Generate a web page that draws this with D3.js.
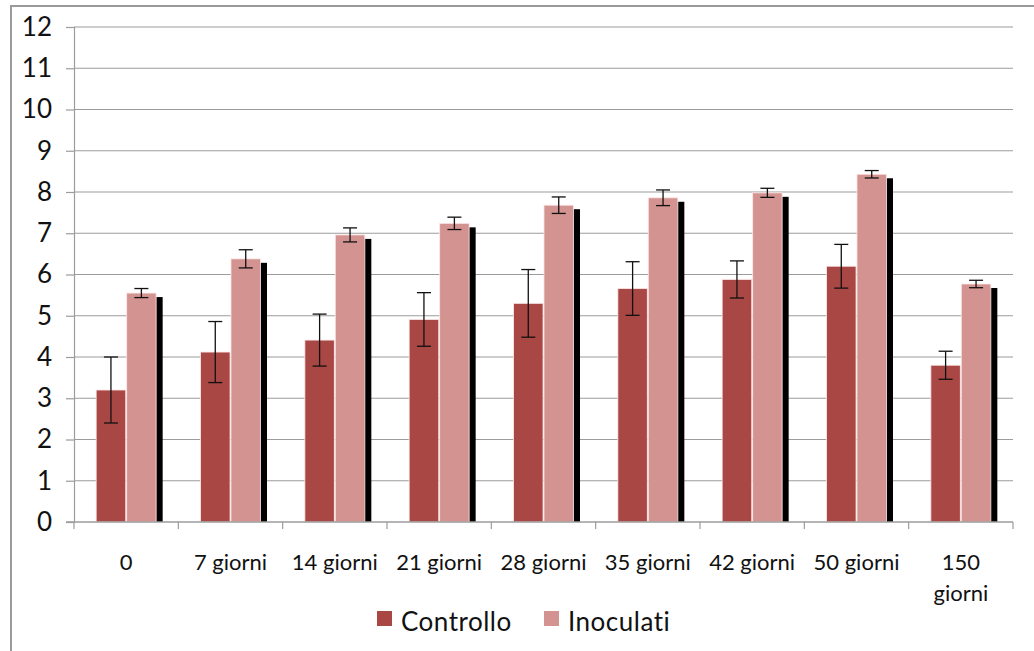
<!DOCTYPE html>
<html>
<head>
<meta charset="utf-8">
<script src="https://cdn.jsdelivr.net/npm/d3@7"></script>
<style>
  html, body { margin: 0; padding: 0; background: #fff; }
  svg { display: block; font-family: Lato, "Open Sans", sans-serif; }
</style>
</head>
<body>
<svg id="chart" width="1034" height="651"></svg>
<script>
// Sampling days
const categories = ["0", "7 giorni", "14 giorni", "21 giorni", "28 giorni", "35 giorni", "42 giorni", "50 giorni", "150 giorni"];
// Tick labels (line breaks where the axis wraps the text)
const xTickLabels = ["0", "7 giorni", "14 giorni", "21 giorni", "28 giorni", "35 giorni", "42 giorni", "50 giorni", "150\ngiorni"];
// Series means and error amounts
const controllo    = [3.20, 4.12, 4.41, 4.91, 5.30, 5.66, 5.88, 6.20, 3.80];
const controlloErr = [0.80, 0.74, 0.63, 0.65, 0.82, 0.65, 0.45, 0.53, 0.34];
const inoculati    = [5.55, 6.38, 6.96, 7.24, 7.68, 7.86, 7.98, 8.43, 5.77];
const inoculatiErr = [0.11, 0.22, 0.17, 0.15, 0.20, 0.19, 0.11, 0.09, 0.09];
const seriesNames = ["Controllo", "Inoculati"];
const yTicks = [0, 1, 2, 3, 4, 5, 6, 7, 8, 9, 10, 11, 12];

const colors = { Controllo: "#a94744", Inoculati: "#d39391" };

const svg = d3.select("#chart");
const plot = { left: 74, right: 1013, top: 27, bottom: 522 };

// Outer chart frame (left and top edges)
svg.append("path")
  .attr("d", `M11,660 L11,6 L1034,6`)
  .attr("fill", "none")
  .attr("stroke", "#9a9a9a")
  .attr("stroke-width", 2);

const x = d3.scaleBand().domain(categories).range([plot.left, plot.right])
  .paddingInner(0.425).paddingOuter(0.2125);
const xs = d3.scaleBand().domain(seriesNames).range([0, x.bandwidth()]).paddingInner(0.03);
const y = d3.scaleLinear().domain([0, 12]).range([plot.bottom, plot.top]);
const step = x.step();

// Horizontal gridlines
svg.append("g").selectAll("line").data(yTicks.filter(t => t > 0)).join("line")
  .attr("x1", plot.left).attr("x2", plot.right)
  .attr("y1", d => y(d)).attr("y2", d => y(d))
  .attr("stroke", "#9c9c9c").attr("stroke-width", 1.2);

// Y axis
const yAxis = d3.axisLeft(y).tickValues(yTicks).tickSize(8).tickPadding(14).tickFormat(d3.format("d"));
const gy = svg.append("g").attr("transform", `translate(${plot.left},0)`).call(yAxis);
gy.select(".domain").attr("stroke", "#9c9c9c").attr("stroke-width", 1.2);
gy.selectAll(".tick line").attr("stroke", "#9c9c9c").attr("stroke-width", 1.2);
gy.selectAll(".tick text").attr("font-size", 26).attr("fill", "#111").attr("font-family", "Lato, sans-serif");

const rows = categories.map((c, i) => ({
  cat: c,
  values: [
    { s: "Controllo", v: controllo[i], e: controlloErr[i] },
    { s: "Inoculati", v: inoculati[i], e: inoculatiErr[i] }
  ]
}));

// Drop shadow behind the Inoculati bars
svg.append("g").selectAll("rect").data(rows).join("rect")
  .attr("x", d => x(d.cat) + xs("Inoculati") + 6.5)
  .attr("y", d => y(d.values[1].v) + 4)
  .attr("width", xs.bandwidth())
  .attr("height", d => plot.bottom - y(d.values[1].v) - 4)
  .attr("fill", "#000");

// Bars
const groups = svg.append("g").selectAll("g").data(rows).join("g")
  .attr("transform", d => `translate(${x(d.cat)},0)`);
groups.selectAll("rect").data(d => d.values).join("rect")
  .attr("x", d => xs(d.s))
  .attr("y", d => y(d.v))
  .attr("width", xs.bandwidth())
  .attr("height", d => plot.bottom - y(d.v))
  .attr("fill", d => colors[d.s])
  .attr("stroke", "rgba(255,235,235,0.8)")
  .attr("stroke-width", 1);

// Error bars
const cap = 7;
const eb = groups.selectAll("g.err").data(d => d.values).join("g").attr("class", "err");
eb.append("line")
  .attr("x1", d => xs(d.s) + xs.bandwidth() / 2).attr("x2", d => xs(d.s) + xs.bandwidth() / 2)
  .attr("y1", d => y(d.v + d.e)).attr("y2", d => y(d.v - d.e));
eb.append("line")
  .attr("x1", d => xs(d.s) + xs.bandwidth() / 2 - cap).attr("x2", d => xs(d.s) + xs.bandwidth() / 2 + cap)
  .attr("y1", d => y(d.v + d.e)).attr("y2", d => y(d.v + d.e));
eb.append("line")
  .attr("x1", d => xs(d.s) + xs.bandwidth() / 2 - cap).attr("x2", d => xs(d.s) + xs.bandwidth() / 2 + cap)
  .attr("y1", d => y(d.v - d.e)).attr("y2", d => y(d.v - d.e));
eb.selectAll("line").attr("stroke", "#111").attr("stroke-width", 1.3);

// X axis baseline and boundary ticks
svg.append("line")
  .attr("x1", plot.left - 8).attr("x2", plot.right)
  .attr("y1", plot.bottom).attr("y2", plot.bottom)
  .attr("stroke", "#9c9c9c").attr("stroke-width", 1.5);
svg.append("g").selectAll("line").data(d3.range(categories.length + 1)).join("line")
  .attr("x1", i => plot.left + i * step).attr("x2", i => plot.left + i * step)
  .attr("y1", plot.bottom).attr("y2", plot.bottom + 7)
  .attr("stroke", "#9c9c9c").attr("stroke-width", 1.2);

// X tick labels
const xl = svg.append("g").selectAll("text").data(categories).join("text")
  .attr("x", d => x(d) + x.bandwidth() / 2)
  .attr("y", 570)
  .attr("text-anchor", "middle")
  .attr("font-size", 22)
  .attr("fill", "#111");
xl.each(function(d, i) {
  const lines = xTickLabels[i].split("\n");
  d3.select(this).selectAll("tspan").data(lines).join("tspan")
    .attr("x", x(d) + x.bandwidth() / 2)
    .attr("dy", (l, j) => j === 0 ? 0 : 31)
    .text(l => l);
});

// Legend
const legendItems = [
  { s: "Controllo", x: 377, tx: 401 },
  { s: "Inoculati", x: 544, tx: 568 }
];
const lg = svg.append("g").selectAll("g").data(legendItems).join("g");
lg.append("rect")
  .attr("x", d => d.x).attr("y", 611).attr("width", 15).attr("height", 15)
  .attr("fill", d => colors[d.s]);
lg.append("text")
  .attr("x", d => d.tx).attr("y", 631)
  .attr("font-size", 26).attr("fill", "#111")
  .attr("letter-spacing", 0.5)
  .text(d => d.s);
</script>
</body>
</html>
